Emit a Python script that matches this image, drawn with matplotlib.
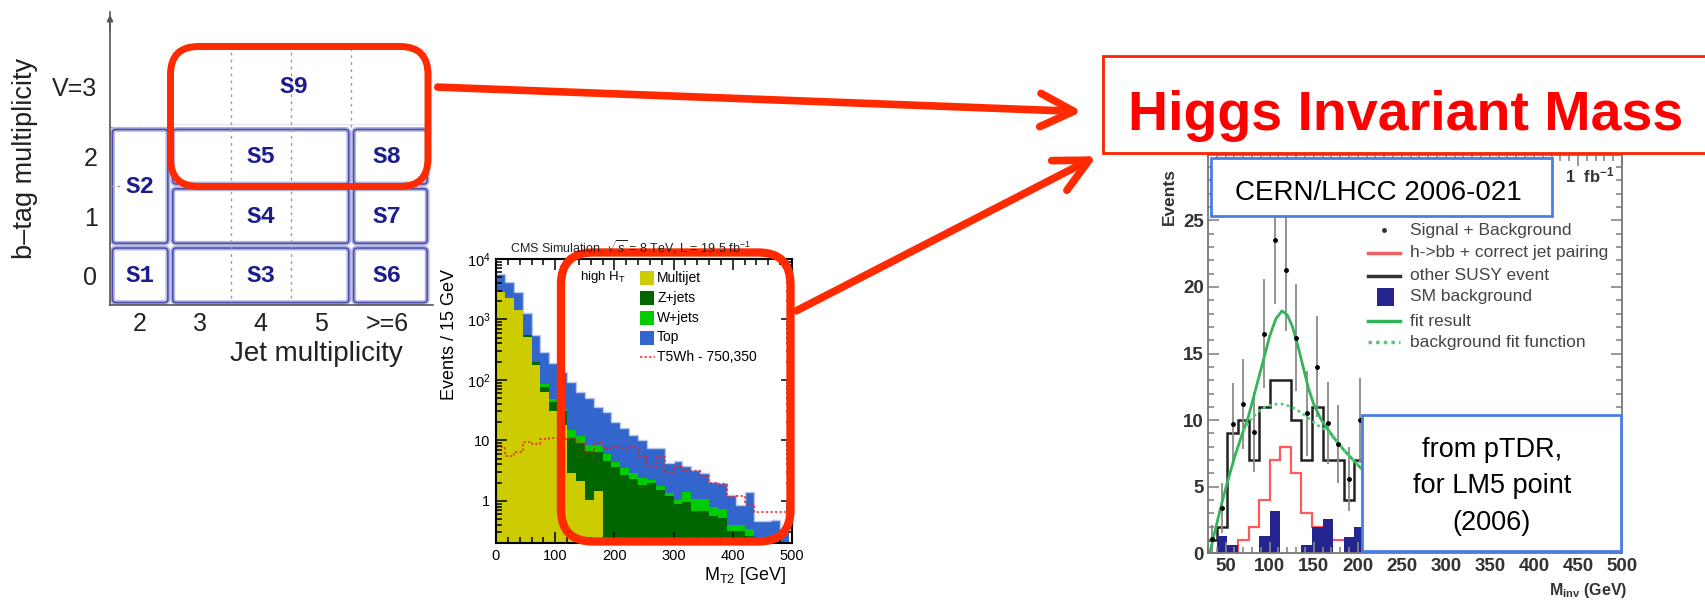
import numpy as np
import matplotlib
matplotlib.use("Agg")
import matplotlib.pyplot as plt
from matplotlib.patches import FancyBboxPatch, Rectangle, FancyArrowPatch
from matplotlib.ticker import FixedLocator, FixedFormatter, MultipleLocator, NullFormatter

plt.rcParams['font.family'] = ['Liberation Sans', 'DejaVu Sans']
plt.rcParams['mathtext.fontset'] = 'custom'
plt.rcParams['mathtext.rm'] = 'Liberation Sans'
plt.rcParams['mathtext.it'] = 'Liberation Sans:italic'
plt.rcParams['mathtext.bf'] = 'Liberation Sans:bold'

# ---------------- Panel 1: signal-region grid ----------------
jet_labels = ['2', '3', '4', '5', '>=6']
btag_labels = ['0', '1', '2', 'V=3']
region_names = ['S1', 'S2', 'S3', 'S4', 'S5', 'S6', 'S7', 'S8', 'S9']
region_jet_first = [0, 0, 1, 1, 1, 4, 4, 4, 1]
region_jet_last = [0, 0, 3, 3, 3, 4, 4, 4, 4]
region_btag_first = [0, 1, 0, 1, 2, 0, 1, 2, 3]
region_btag_last = [0, 2, 0, 1, 2, 0, 1, 2, 3]

# ---------------- Panel 2: CMS MT2 distribution ----------------
mt2_edges = np.arange(0, 496, 15)
multijet = [2820, 2240, 1435, 520, 177, 64, 30, 18, 2.9, 2.1, 1.04, 1.46,
            0, 0, 0, 0, 0, 0, 0, 0, 0, 0, 0, 0, 0, 0, 0, 0, 0, 0, 0, 0, 0]
zjets = [0, 0, 0, 25, 19, 12, 13, 12, 8.2, 6.9, 5.5, 5.0, 4.6, 3.55, 2.7, 2.3,
         1.8, 1.96, 1.52, 1.22, 0.88, 0.95, 0.67, 0.67, 0.55, 0.52, 0.31, 0.31,
         0.26, 0.21, 0.15, 0.12, 0.1]
wjets = [0, 0, 0, 3, 4, 9, 5.7, 3, 3.8, 2.6, 1.9, 1.9, 1.3, 0.9, 0.8, 0.55,
         0.6, 0.26, 0.21, 0.12, 0.16, 0.44, 0.41, 0.41, 0.24, 0.22, 0.08, 0.08,
         0.08, 0.02, 0.02, 0, 0]
top = [2770, 1880, 1445, 712, 355, 209, 140, 102, 77, 52, 41.5, 27.6, 24, 15.5,
       12.5, 9.4, 7.8, 5.2, 5.7, 2.86, 3.43, 2.3, 2.17, 1.79, 1.29, 1.26, 0.87,
       0.47, 1.06, 0.225, 0.29, 0.365, 0.2]
t5wh = [7.7, 5.4, 6.5, 9.3, 8.7, 10.5, 10.8, 10.5, 10.8, 9.0, 6.5, 9.2, 7.6,
        7.9, 7.6, 7.8, 5.6, 3.6, 5.2, 3.0, 3.6, 3.1, 3.1, 2.6, 2.0, 1.9, 1.15,
        1.2, 0.9, 0.65, 0.65, 0.65, 0.65]
mt2_legend = ['Multijet', 'Z+jets', 'W+jets', 'Top', 'T5Wh - 750,350']

# ---------------- Panel 3: Higgs invariant mass ----------------
minv_edges = np.arange(28, 221, 12)
other_susy = [1, 2, 9, 10, 7, 11, 13, 13, 10, 7, 11, 7, 7, 4, 7, 5]
hbb = [0, 0, 0, 1, 2, 4, 7, 8, 6, 3, 2, 1, 1, 1, 0, 0]
sm_bkg = [0, 1.3, 0.6, 0, 0, 1.3, 3.2, 0, 0, 0.6, 2.0, 2.6, 0, 1.2, 2.0, 0.8]
data_x = [34, 46, 58, 70, 82, 94, 106, 118, 130, 142, 154, 166, 178, 190, 202]
data_y = [1.1, 3.4, 9.7, 11.2, 9.1, 16.5, 23.5, 21.3, 16.2, 10.5, 14.0, 9.8, 8.2, 5.6, 10.0]
data_err = [1.0, 1.9, 3.1, 3.4, 3.0, 4.1, 4.8, 4.6, 4.0, 3.2, 3.8, 3.1, 2.9, 2.4, 3.2]
fit_x = [32, 38, 45, 51, 60, 68, 76, 84, 92, 100, 107, 114, 120, 126, 132,
         138, 144, 150, 158, 166, 175, 185, 195, 205, 215]
fit_y = [0, 1.7, 3.6, 5.1, 7.2, 8.8, 10.3, 12.3, 14.3, 16.3, 17.6, 18.2, 17.9,
         17.0, 15.6, 14.0, 12.4, 11.2, 10.1, 9.3, 8.5, 7.7, 7.0, 6.3, 5.8]
bkg_x = [70, 78, 86, 95, 105, 115, 125, 135, 145, 155, 165, 175, 185, 195, 205, 215]
bkg_y = [9.2, 10.0, 10.6, 11.0, 11.2, 11.2, 11.0, 10.6, 10.1, 9.6, 9.2, 8.5, 7.7, 7.0, 6.3, 5.8]
minv_legend = ['Signal + Background', 'h->bb + correct jet pairing', 'other SUSY event',
               'SM background', 'fit result', 'background fit function']

W, H = 1705, 600
fig = plt.figure(figsize=(W / 100, H / 100), dpi=100)
fig.patch.set_facecolor('white')


def px_axes(l, t, r, b, **kw):
    return fig.add_axes([l / W, 1 - b / H, (r - l) / W, (b - t) / H], **kw)


# ======================= Panel 1 =======================
ax1 = px_axes(110, 12, 432.6, 305)
col_edges = [1.5, 2.5, 3.5, 4.5, 5.5, 6.8]
col_ticks = [2, 3, 4, 5, 6.1]
row_edges = [-0.5, 0.5, 1.5, 2.5, 3.85]
row_ticks = [0, 1, 2, 3.18]
ax1.set_xlim(1.5, 6.85)
ax1.set_ylim(-0.5, 4.44)
ax1.set_xticks(col_ticks, jet_labels, fontsize=18, color='#222222')
ax1.set_yticks(row_ticks, btag_labels, fontsize=18, color='#222222')
ax1.tick_params(length=0, pad=5)
ax1.tick_params(axis='y', pad=9)
for s in ['top', 'right']:
    ax1.spines[s].set_visible(False)
for s in ['left', 'bottom']:
    ax1.spines[s].set_color('#555555')
    ax1.spines[s].set_linewidth(1.2)
ax1.annotate('', xy=(0, 1), xytext=(0, 0.93), xycoords='axes fraction',
             arrowprops=dict(arrowstyle='-|>', color='#555555', lw=1.2, mutation_scale=9))

pad = 0.04
for name, j0, j1, b0, b1 in zip(region_names, region_jet_first, region_jet_last,
                                 region_btag_first, region_btag_last):
    x0, x1 = col_edges[j0], col_edges[j1 + 1]
    y0, y1 = row_edges[b0], row_edges[b1 + 1]
    if name == 'S9':
        ax1.add_patch(FancyBboxPatch((x0 + pad, y0 + pad), x1 - x0 - 2 * pad, y1 - y0 - 2 * pad,
                                     boxstyle='round,pad=0,rounding_size=0.06',
                                     fc='white', ec='#e2e2f2', lw=0.8, zorder=1))
    else:
        ax1.add_patch(FancyBboxPatch((x0 + pad, y0 + pad), x1 - x0 - 2 * pad, y1 - y0 - 2 * pad,
                                     boxstyle='round,pad=0,rounding_size=0.06',
                                     fc='white', ec='#b0b4e0', lw=3.5, zorder=1))
        ax1.add_patch(FancyBboxPatch((x0 + pad, y0 + pad), x1 - x0 - 2 * pad, y1 - y0 - 2 * pad,
                                     boxstyle='round,pad=0,rounding_size=0.06',
                                     fc='none', ec='#4a4aaa', lw=1.1, zorder=1.5))
    xc = (col_ticks[j0] + col_ticks[j1]) / 2
    yc = (row_ticks[b0] + row_ticks[b1]) / 2
    ax1.text(xc, yc, name, fontfamily='Liberation Mono', fontweight='bold', fontsize=17.5,
             color='#1c1c8c', ha='center', va='center', zorder=3)

ax1.vlines([3.5, 4.5], -0.5, 3.85, colors='#999999', linestyles=(0, (2, 3)), lw=1, zorder=2)
ax1.vlines([5.5], 2.5, 3.85, colors='#999999', linestyles=(0, (2, 3)), lw=1, zorder=2)
ax1.hlines([2.5], 1.5, 2.5, colors='#999999', linestyles=(0, (2, 3)), lw=1, zorder=0.5)
ax1.hlines([1.5], 1.5, 1.72, colors='#999999', linestyles=(0, (2, 3)), lw=1, zorder=2)

# ======================= Panel 2 =======================
ax2 = px_axes(496, 259, 792, 543)
c_mj = np.array(multijet, dtype=float)
c_z = c_mj + np.array(zjets)
c_w = c_z + np.array(wjets)
c_top = c_w + np.array(top)
floor = 1e-3
col_top, col_w, col_z, col_mj = '#3366cc', '#00cc00', '#006600', '#cccc00'
for vals, col in [(c_top, col_top), (c_w, col_w), (c_z, col_z), (c_mj, col_mj)]:
    ax2.stairs(np.maximum(vals, floor), mt2_edges, baseline=floor, fill=True, color=col, lw=0)
ax2.stairs(c_top, mt2_edges, baseline=None, color='#b8c8ee', lw=1)
ax2.stairs(t5wh, mt2_edges, baseline=None, color='#ee2222', lw=1.1, ls=(0, (1.5, 1.5)))
ax2.set_yscale('log')
ax2.set_xlim(0, 500)
ax2.set_ylim(0.2, 1e4)
ax2.xaxis.set_major_locator(MultipleLocator(100))
ax2.xaxis.set_minor_locator(MultipleLocator(20))
ax2.yaxis.set_major_locator(FixedLocator([1, 10, 100, 1000, 10000]))
ax2.yaxis.set_major_formatter(FixedFormatter(['1', '10', '$10^{2}$', '$10^{3}$', '$10^{4}$']))
ax2.yaxis.set_minor_locator(FixedLocator([m * 10.0 ** e for e in range(-1, 4) for m in range(2, 10)]))
ax2.yaxis.set_minor_formatter(NullFormatter())
ax2.tick_params(which='both', direction='in', top=True, right=True, width=1.1, labelsize=10.5)
ax2.tick_params(which='major', length=8, pad=4)
ax2.tick_params(which='minor', length=4)
for s in ax2.spines.values():
    s.set_linewidth(1.5)

# ======================= Panel 3 =======================
ax3 = px_axes(1208, 155, 1622, 553.4)
ax3.stairs(other_susy, minv_edges, baseline=0, color='#222222', lw=1.8)
ax3.stairs(hbb, minv_edges, baseline=0, color='#ff5a5a', lw=1.6)
ax3.stairs(sm_bkg, minv_edges, baseline=0, fill=True, color='#25258f', lw=0)
ax3.errorbar(data_x, data_y, yerr=data_err, fmt='o', ms=2.5, color='black',
             ecolor='#8a8a8a', elinewidth=1.3, capsize=0)
ax3.plot(fit_x, fit_y, color='#33b35a', lw=2)
ax3.plot(bkg_x, bkg_y, color='#55cc77', lw=2, ls=(0, (1, 1.2)))
ax3.set_xlim(30, 500)
ax3.set_ylim(0, 29.9)
ax3.set_xticks(np.arange(50, 501, 50), [str(v) for v in range(50, 501, 50)], fontweight='bold')
ax3.set_yticks(np.arange(0, 26, 5), [str(v) for v in range(0, 26, 5)], fontweight='bold')
ax3.xaxis.set_minor_locator(MultipleLocator(10))
ax3.yaxis.set_minor_locator(MultipleLocator(1))
ax3.tick_params(which='both', direction='in', top=True, right=True, colors='#888888',
                labelcolor='#333333', labelsize=13.5, width=1.2)
ax3.tick_params(which='major', length=8, pad=3)
ax3.tick_params(which='minor', length=4)
for s in ax3.spines.values():
    s.set_color('#777777')
    s.set_linewidth(1.3)

# ======================= Overlay (pixel coordinates) =======================
ov = fig.add_axes([0, 0, 1, 1], zorder=10)
ov.set_xlim(0, W)
ov.set_ylim(H, 0)
ov.axis('off')

# panel 1 axis titles
ov.text(25, 158, 'b\u2013tag multiplicity', rotation=90, ha='center', va='center',
        fontsize=19.5, color='#222222')
ov.text(316, 354, 'Jet multiplicity', ha='center', va='center', fontsize=20, color='#222222')

# panel 2 texts and legend
ov.text(510, 247, 'CMS Simulation, $\\sqrt{s}$ = 8 TeV, L = 19.5 fb$^{-1}$', ha='left',
        va='center', fontsize=9, color='#222222')
ov.text(450, 335, 'Events / 15 GeV', rotation=90, ha='center', va='center', fontsize=13)
ov.text(786, 575, 'M$_{\\mathrm{T2}}$ [GeV]', ha='right', va='center', fontsize=13)
ov.text(580, 277, 'high H$_{\\mathrm{T}}$', ha='left', va='center', fontsize=9.5)
leg_rows = [278.3, 298.3, 318.3, 337.5, 356.7]
for lab, col, yy in zip(mt2_legend[:4], [col_mj, col_z, col_w, col_top], leg_rows[:4]):
    ov.add_patch(Rectangle((640, yy - 7), 14, 14, fc=col, ec='none'))
    ov.text(657, yy, lab, ha='left', va='center', fontsize=10)
ov.plot([640, 655], [leg_rows[4], leg_rows[4]], color='#ee2222', lw=1.1, ls=(0, (1.5, 1.5)))
ov.text(657, leg_rows[4], mt2_legend[4], ha='left', va='center', fontsize=10)

# panel 3 texts and legend
ov.text(1169, 168, 'Events', rotation=90, ha='center', va='top', fontsize=12.5,
        fontweight='bold', color='#333333')
ov.text(1588, 591, 'M$_{\\mathbf{inv}}$ (GeV)', ha='center', va='center', fontsize=11.5,
        fontweight='bold', color='#333333')
ov.text(1590, 175, '1  fb$^{\\mathbf{-1}}$', ha='center', va='center', fontsize=12,
        fontweight='bold', color='#333333')
rows3 = [230, 253, 276, 297, 321, 342]
ov.plot([1384], [rows3[0]], marker='o', ms=2.5, color='#333333')
ov.plot([1368, 1400], [rows3[1], rows3[1]], color='#f06060', lw=2.5)
ov.plot([1368, 1400], [rows3[2], rows3[2]], color='#333333', lw=2.5)
ov.add_patch(Rectangle((1377, rows3[3] - 9), 17, 18, fc='#25258f', ec='none'))
ov.plot([1368, 1400], [rows3[4], rows3[4]], color='#33b35a', lw=2.5)
ov.plot([1368, 1400], [rows3[5], rows3[5]], color='#55cc77', lw=2.5, ls=(0, (1, 1.2)))
for lab, yy in zip(minv_legend, rows3):
    ov.text(1410, yy, lab, ha='left', va='center', fontsize=12.5, color='#444444')

# annotation boxes on panel 3
ov.add_patch(Rectangle((1211, 158), 341, 58, fc='white', ec='#4a7de6', lw=2))
ov.text(1378, 200, 'CERN/LHCC 2006-021', ha='center', va='baseline', fontsize=20, color='black')
ov.add_patch(Rectangle((1362, 415), 259, 136, fc='white', ec='#4a7de6', lw=2))
for line, yb in zip(['from pTDR,', 'for LM5 point', '(2006)'], [456.7, 493.3, 530]):
    ov.text(1492, yb, line, ha='center', va='baseline', fontsize=19.5, color='black')

# title box
ov.add_patch(Rectangle((1102.5, 55.7), 620, 97, fc='white', ec='#ff2200', lw=2))
ov.text(1128, 130, 'Higgs Invariant Mass', ha='left', va='baseline', fontsize=40,
        fontweight='bold', color='#ff0000')

# red highlight boxes
red = '#ff2a00'
ov.add_patch(FancyBboxPatch((170.5, 46.5), 257.5, 140, boxstyle='round,pad=0,rounding_size=28',
                            fc='none', ec=red, lw=5))
ov.add_patch(FancyBboxPatch((561, 252.5), 229.5, 289, boxstyle='round,pad=0,rounding_size=32',
                            fc='none', ec=red, lw=6))

# arrows
for (xa, ya), (xb, yb) in [((435, 87), (1085, 111.7)), ((794, 312), (1099, 155))]:
    ov.add_patch(FancyArrowPatch((xa, ya), (xb, yb),
                                 arrowstyle='->,head_length=2.4,head_width=1.2',
                                 mutation_scale=10, color=red, lw=5.5,
                                 capstyle='round', joinstyle='round'))

fig.savefig('out.png', dpi=100, facecolor='white')
